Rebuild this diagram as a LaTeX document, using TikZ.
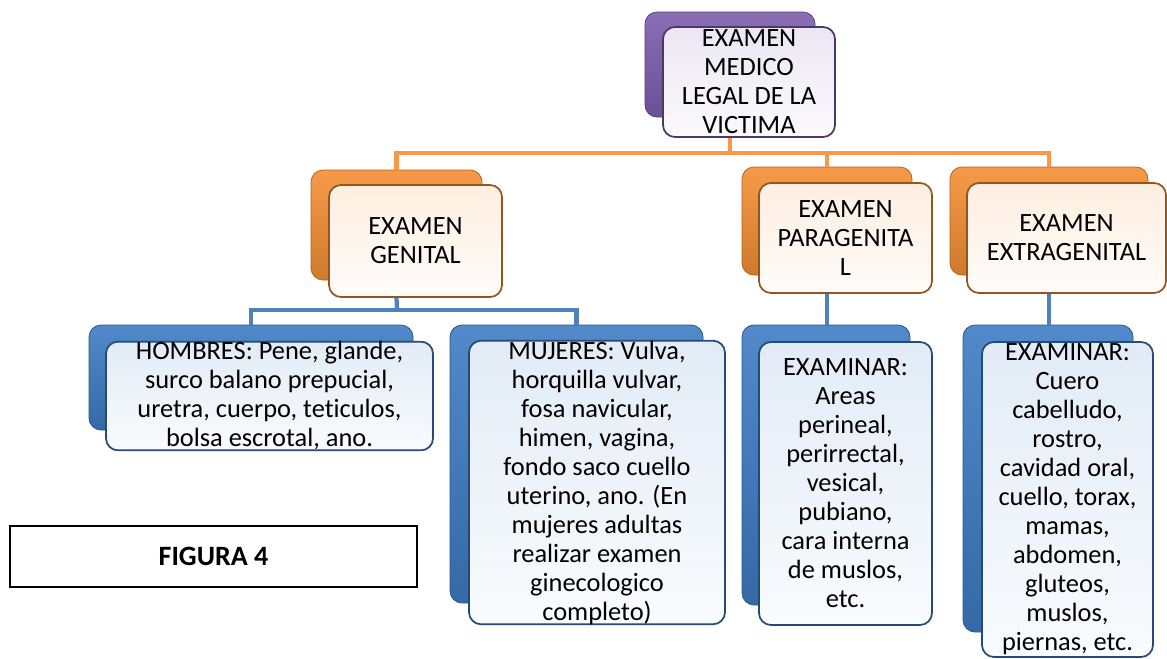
\documentclass[tikz,border=0pt]{standalone}
\usepackage{fontspec}
\setmainfont{Carlito}[Ligatures=NoCommon]
\usepackage{tikz}
\usepackage{xcolor}

\definecolor{purp}{RGB}{126,94,174}
\definecolor{orng}{RGB}{245,143,52}
\definecolor{blu}{RGB}{62,124,196}
\definecolor{ocol}{RGB}{248,152,72}
\definecolor{bcol}{RGB}{79,129,189}

\tikzset{
  backbox/.style={draw=#1!70!black, line width=0.6pt, rounded corners=9pt,
    top color=#1!90!white, bottom color=#1!85!black, inner sep=0pt},
  frontbox/.style={draw=#1!60!black, line width=1.3pt, rounded corners=9pt,
    top color=#1!15!white, bottom color=#1!3!white, align=center, inner sep=0pt,
    font=\fontsize{19.8}{21.75}\selectfont},
  ocon/.style={draw=ocol, line width=3.2pt},
  bcon/.style={draw=bcol, line width=3.2pt}
}

\begin{document}
\begin{tikzpicture}[x=0.75pt,y=-0.75pt]
\useasboundingbox (0,0) rectangle (1167,658);

\node[backbox=purp, minimum width=127.5pt, minimum height=78.75pt] (topb) at (730,64.5) {};
\node[frontbox=purp, minimum width=129pt, minimum height=82.5pt] (top) at (749,82)
  {EXAMEN\\MEDICO\\LEGAL DE LA\\VICTIMA};

\node[backbox=orng, minimum width=128.25pt, minimum height=82.5pt] (genitalb) at (396.5,225) {};
\node[frontbox=orng, minimum width=129.75pt, minimum height=84pt] (genital) at (415.5,241)
  {EXAMEN\\GENITAL};
\node[backbox=orng, minimum width=127.5pt, minimum height=81pt] (paragenb) at (827,221) {};
\node[frontbox=orng, minimum width=129.75pt, minimum height=82.5pt] (paragen) at (845.5,238)
  {EXAMEN\\PARAGENITA\\L};
\node[backbox=orng, minimum width=148.5pt, minimum height=81pt] (extragenb) at (1049,221) {};
\node[frontbox=orng, minimum width=149.25pt, minimum height=82.5pt] (extragen) at (1066.5,238)
  {EXAMEN\\EXTRAGENITAL};

\node[backbox=blu, minimum width=243pt, minimum height=78.75pt] (hombresb) at (251,377.5) {};
\node[frontbox=blu, minimum width=245.25pt, minimum height=81pt] (hombres) at (269.5,396)
  {HOMBRES: Pene, glande,\\surco balano prepucial,\\uretra, cuerpo, teticulos,\\bolsa escrotal, ano.};
\node[backbox=blu, minimum width=189.75pt, minimum height=208.5pt] (mujeresb) at (576.5,464) {};
\node[frontbox=blu, minimum width=192pt, minimum height=210.75pt] (mujeres) at (597,482.5)
  {MUJERES: Vulva,\\horquilla vulvar,\\fosa navicular,\\himen, vagina,\\fondo saco cuello\\uterino, ano. (En\\mujeres adultas\\realizar examen\\ginecologico\\completo)};
\node[backbox=blu, minimum width=126pt, minimum height=210pt] (parab) at (826,465) {};
\node[frontbox=blu, minimum width=129.75pt, minimum height=212.25pt] (para) at (845.5,483.5)
  {EXAMINAR:\\Areas\\perineal,\\perirrectal,\\vesical,\\pubiano,\\cara interna\\de muslos,\\etc.};
\node[backbox=blu, minimum width=127.5pt, minimum height=230.25pt] (extrab) at (1048,478.5) {};
\node[frontbox=blu, minimum width=128.25pt, minimum height=236.25pt] (extra) at (1067.5,499.5)
  {EXAMINAR:\\Cuero\\cabelludo,\\rostro,\\cavidad oral,\\cuello, torax,\\mamas,\\abdomen,\\gluteos,\\muslos,\\piernas, etc.};

\node[draw, line width=1pt, minimum width=305.25pt, minimum height=45.75pt,
  font=\fontsize{21}{24}\selectfont\bfseries] (figura) at (213.5,556.5) {FIGURA 4};

\coordinate (obar) at (730,153);
\draw[ocon] (topb |- top.south) -- (obar);
\draw[ocon] (genitalb.north) |- (obar) -| (extragenb.north);
\draw[ocon] (paragenb.north) -- (paragenb.north |- obar);

\coordinate (bbar) at (397,310);
\draw[bcon] (genitalb |- genital.south) -- (bbar);
\draw[bcon] (hombresb.north) |- (bbar) -| (mujeresb.north);
\draw[bcon] (paragenb |- paragen.south) -- (paragenb |- parab.north);
\draw[bcon] (extragenb |- extragen.south) -- (extragenb |- extrab.north);
\end{tikzpicture}
\end{document}
